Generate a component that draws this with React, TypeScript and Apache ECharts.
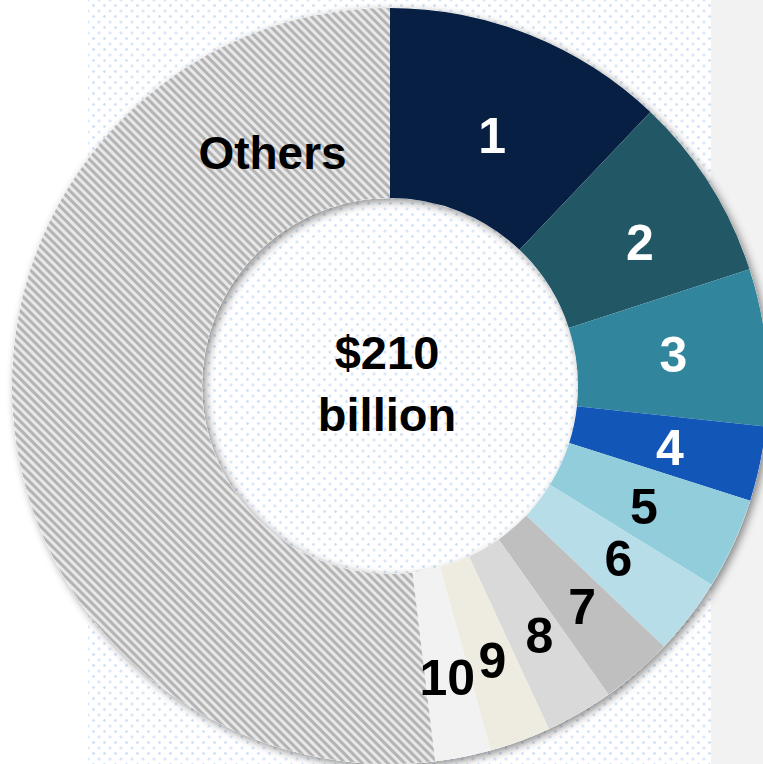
import React, { useEffect, useRef } from "react";
import * as echarts from "echarts";

const categories = ["1", "2", "3", "4", "5", "6", "7", "8", "9", "10", "Others"];
const values = [25.4, 16.6, 14.1, 6.7, 8.2, 6.9, 6.5, 6.1, 5.5, 5.0, 109];
const colors = ["#061f42", "#225866", "#31859c", "#1257b8", "#92cddc", "#b7dde8", "#bfbfbf", "#d9d9d9", "#eeece1", "#f2f2f2", "#e8e8e8"];
const labelColors = ["#fff", "#fff", "#fff", "#fff", "#000", "#000", "#000", "#000", "#000", "#000", "#000"];
const labelOffsets = [[-4, 16], [8, 10], [-1, -2], [0, 3], [-6, 2], [2, -2], [5, 5], [6, 3], [4, 6], [2, 11], [168, -250]];
const totalLabel = "$210\nbillion";

export default function App() {
  const ref = useRef<HTMLDivElement>(null);
  useEffect(() => {
    if (!ref.current) return;
    const chart = echarts.init(ref.current, undefined, { renderer: "svg" });
    const center = [390, 386];
    const radius = [188, 378];
    const data = categories.map((c, i) => {
      const isOther = c === "Others";
      return {
        name: c,
        value: values[i],
        itemStyle: isOther
          ? {
              color: "#e8e8e8",
              decal: {
                symbol: "rect",
                symbolSize: 1,
                dashArrayX: [1, 0],
                dashArrayY: [2.3, 2.3],
                rotation: Math.PI / 4,
                color: "#b4b4b4",
                backgroundColor: "#ececec",
              },
            }
          : { color: colors[i] },
        label: {
          color: labelColors[i],
          fontSize: isOther ? 46 : 50,
          offset: labelOffsets[i],
        },
      };
    });
    chart.setOption({
      animation: false,
      series: [
        {
          type: "pie",
          silent: true,
          z: 1,
          center,
          radius,
          startAngle: 90,
          label: { show: false },
          labelLine: { show: false },
          data: [{ value: 1, itemStyle: { color: "#ffffff", shadowBlur: 9, shadowOffsetX: 3, shadowOffsetY: 3, shadowColor: "rgba(0,0,0,0.45)" } }],
        },
        {
          type: "pie",
          z: 2,
          center,
          radius,
          startAngle: 90,
          clockwise: true,
          avoidLabelOverlap: false,
          minShowLabelAngle: 0,
          label: {
            show: true,
            position: "inside",
            formatter: "{b}",
            fontFamily: "Liberation Sans, Arial, sans-serif",
            fontWeight: "bold",
          },
          labelLine: { show: false },
          emphasis: { disabled: true },
          data,
        },
      ],
      graphic: [
        {
          type: "text",
          x: 387,
          y: 383,
          z: 10,
          style: {
            text: totalLabel,
            fill: "#000",
            font: "bold 47px 'Liberation Sans', Arial, sans-serif",
            lineHeight: 62,
            textAlign: "center",
            textVerticalAlign: "middle",
          },
        },
      ],
    });
    return () => chart.dispose();
  }, []);

  const dots =
    "radial-gradient(circle, #d3e2f6 1.1px, transparent 1.6px) 0 0 / 11px 11px, radial-gradient(circle, #d3e2f6 1.1px, transparent 1.6px) 5.5px 5.5px / 11px 11px";

  return (
    <div style={{ position: "fixed", left: 0, top: 0, width: 763, height: 764, background: "#ffffff", overflow: "hidden" }}>
      <div style={{ position: "absolute", left: 88, top: 0, width: 623, height: 764, background: dots }} />
      <div style={{ position: "absolute", left: 711, top: 0, width: 52, height: 764, background: "#f2f2f2" }} />
      <div ref={ref} style={{ position: "absolute", left: 0, top: 0, width: 763, height: 764 }} />
    </div>
  );
}
